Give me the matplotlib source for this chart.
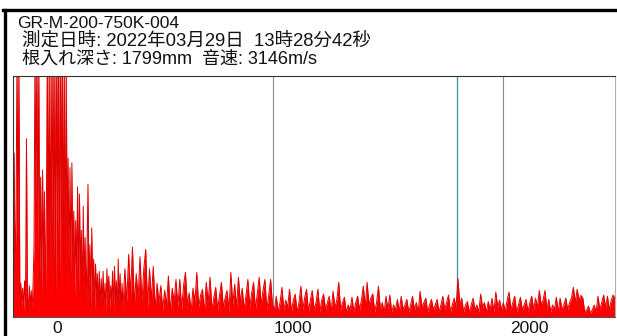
import numpy as np
import matplotlib
matplotlib.use("Agg")
import matplotlib.pyplot as plt
from matplotlib.lines import Line2D

# ---- header texts ----
title_id = "GR-M-200-750K-004"
title_date = " 測定日時: 2022年03月29日  13時28分42秒"
title_info = " 根入れ深さ: 1799mm  音速: 3146m/s"

# ---- axis ----
x_ticks = [0, 1000, 2000]
x_tick_labels = ["0", "1000", "2000"]
x_limits = (-187, 2360)
y_limits = (0, 100)

# ---- marker lines ----
marker_gray = [914, 1885]
marker_teal = [1690]

# ---- waveform, fine segment (x from -184, step 4) ----
amp_fine = [
    38, 68, 20, 40, 112, 30, 110, 8, 14, 4,
    12, 3, 15, 6, 74, 10, 2, 13, 4, 11,
    3, 14, 30, 112, 45, 115, 25, 110, 15, 58,
    10, 61, 20, 52, 8, 40, 112, 25, 115, 12,
    110, 35, 116, 20, 112, 8, 118, 30, 110, 15,
    114, 40, 112, 22, 110, 12, 108, 35, 66, 20,
    62, 15, 64, 25, 44, 8, 40, 18, 54, 10,
    51, 20, 36, 6, 46, 15, 33, 5, 28, 55,
    12, 30, 4, 37, 10, 24, 3, 22, 8, 18,
    5, 19, 3, 16, 6, 19, 4, 14, 2, 20,
    8, 17, 3, 13, 6, 19, 2, 21, 5, 15,
    3, 24, 6, 18, 2, 14,
]

# ---- waveform, coarse segment (x from 280, step 8) ----
amp_coarse = [
    4, 20, 6, 26, 9, 29, 5, 18, 8, 25,
    6, 20, 28, 4, 20, 7, 21, 3, 14, 6,
    13, 3, 11, 5, 17, 2, 12, 6, 15.6, 4,
    15.6, 3, 13, 18.5, 5, 10, 2, 12, 6, 18.5,
    4, 9, 11.5, 2, 14.4, 6, 16.5, 3, 8, 12.3,
    3, 9, 14.4, 4, 8, 11, 2, 18.5, 5, 13.6,
    4, 16.5, 6, 12, 3, 9, 15.6, 4, 10, 14.4,
    3, 10, 16.5, 5, 11, 15.6, 3, 9, 15.6, 5,
    3, 8.6, 2, 6, 12.3, 3, 7, 4, 11.5, 2,
    7, 9.5, 2, 6, 12.8, 3, 8, 11.5, 2, 7,
    11, 3, 6, 11.5, 2, 7, 9.5, 3, 6, 8.6,
    2, 10.7, 4, 7, 14.4, 3, 6, 8.2, 2, 5,
    3, 8.2, 2, 6, 8.6, 3, 7, 12.8, 4, 14.4,
    5, 8, 9.6, 2, 6, 12.8, 3, 6, 2, 8.6,
    3, 9.1, 2, 5, 3, 7.3, 2, 8.6, 3, 5,
    7.3, 2, 5, 8.6, 3, 6, 2, 10.7, 4, 6,
    7.8, 2, 5, 7.3, 3, 5, 7.3, 2, 5, 8.6,
    3, 6, 9.1, 2, 5, 7.8, 4, 16, 5, 7.8,
    2, 5, 6.4, 2, 5, 7.8, 3, 5, 2, 9.5,
    4, 6, 2, 6.4, 3, 7.8, 2, 10.3, 4, 7,
    3, 6, 2, 7, 10.3, 3, 6, 8.6, 2, 5,
    8.2, 3, 5, 7.3, 2, 6, 8.6, 3, 7.8, 4,
    11, 5, 7, 11, 3, 7.3, 2, 5, 3, 8.2,
    2, 7.8, 3, 5, 7.8, 3, 6, 8, 12.3, 6,
    11.5, 7, 9, 7.8, 2, 3, 4.5, 1.5, 3, 5,
    2, 8.6, 3, 6, 9.1, 4, 8.6, 3, 7, 9.1, 7.8,
]

x_fine = -184 + 4 * np.arange(len(amp_fine))
x_coarse = 280 + 8 * np.arange(len(amp_coarse))
x_all = np.concatenate([x_fine, x_coarse])
amp_all = np.concatenate([amp_fine, amp_coarse])

W, H, DPI = 617, 336, 100
fig = plt.figure(figsize=(W / DPI, H / DPI), dpi=DPI)
fig.patch.set_facecolor("white")

ax = fig.add_axes([12.5 / W, 1 - 317 / H, (615 - 12.5) / W, (317 - 76) / H])
ax.set_xlim(*x_limits)
ax.set_ylim(*y_limits)

for xv in marker_gray:
    ax.axvline(xv, color="#8a8a8a", lw=0.8, zorder=1)
for xv in marker_teal:
    ax.axvline(xv, color="#2f8fb8", lw=0.9, zorder=1)

ax.fill_between(x_all, 0, amp_all, color="#ff0000", lw=0, zorder=2)
ax.plot(x_all, amp_all, color="#e00000", lw=0.7, zorder=3, clip_on=True)

ax.set_yticks([])
ax.set_xticks(x_ticks)
ax.set_xticklabels(x_tick_labels, fontsize=12.5, family=["Liberation Sans", "DejaVu Sans"], color="#111111")
ax.tick_params(axis="x", length=0, pad=3)

ax.spines["top"].set_color("#333333")
ax.spines["left"].set_color("#333333")
ax.spines["bottom"].set_color("#555555")
ax.spines["right"].set_color("#b0b0b0")
for s in ax.spines.values():
    s.set_linewidth(0.8)
    s.set_zorder(4)

# outer frame
fig.add_artist(Line2D([3 / W, 1.0], [1 - 10 / H, 1 - 10 / H], color="black", lw=2.4, transform=fig.transFigure))
fig.add_artist(Line2D([5 / W, 5 / W], [0, 1 - 10 / H], color="black", lw=2.4, transform=fig.transFigure))

fonts = ["Liberation Sans", "Noto Sans CJK JP", "DejaVu Sans"]
fig.text(17 / W, 1 - 28 / H, title_id, fontsize=12.6, family=fonts, va="baseline", ha="left", color="#111111")
fig.text(17 / W, 1 - 46 / H, title_date, fontsize=13.3, family=fonts, va="baseline", ha="left", color="#111111")
fig.text(17 / W, 1 - 64 / H, title_info, fontsize=13, family=fonts, va="baseline", ha="left", color="#111111")

fig.savefig("out.png", dpi=DPI, facecolor="white")
